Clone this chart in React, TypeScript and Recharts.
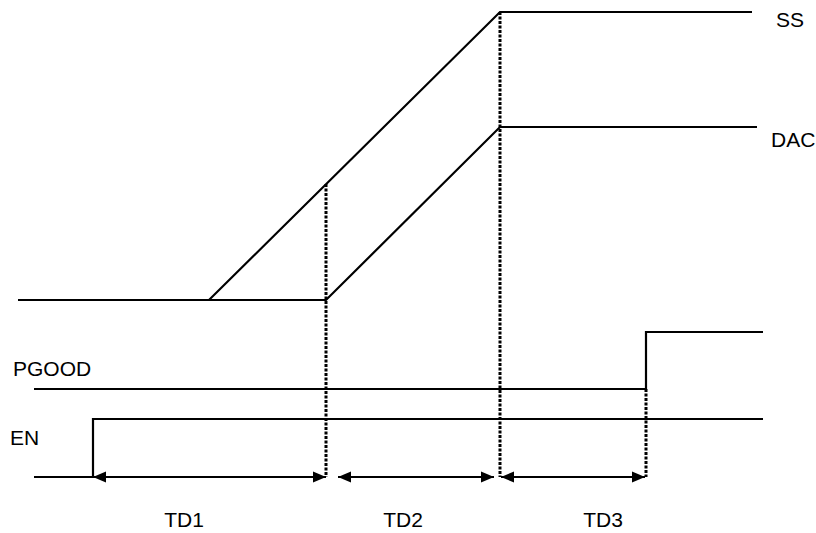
import React from "react";
import { ComposedChart, Line, XAxis, YAxis, ReferenceDot } from "recharts";

// time axis and signal levels (same units as the drawing)
const ssTime = [18, 209, 500, 752];
const ssLevel = [300, 300, 12, 12];

const dacTime = [18, 326, 500, 757];
const dacLevel = [300, 300, 127, 127];

const pgoodTime = [34, 646, 646, 763];
const pgoodLevel = [389, 389, 332, 332];

const enTime = [34, 93, 93, 763];
const enLevel = [477, 477, 419, 419];

// dotted guides: [time, top, bottom]
const guideTime = [326, 500, 646];
const guideTop = [184, 12, 389];
const guideBottom = [477, 477, 477];

// delay arrows
const delayNames = ["TD1", "TD2", "TD3"];
const delayStart = [93, 338, 501];
const delayEnd = [326, 494, 645];
const delayLevel = 477;
const delayLabelTime = [184, 403, 603];
const delayLabelLevel = 527;

// signal names
const signalNames = ["SS", "DAC", "PGOOD", "EN"];
const signalLabelTime = [776, 771, 13, 10];
const signalLabelLevel = [27, 147, 376, 445];

const toRows = (t: number[], v: number[]) => t.map((x, i) => ({ t: x, v: v[i] }));

const FONT = "'Liberation Sans', Arial, sans-serif";

function ArrowHead(props: any) {
  const { cx, cy, index } = props;
  if (cx == null || cy == null) return null;
  const dir = index === 0 ? 1 : -1;
  const len = 13;
  const half = 5.5;
  const pts = `${cx},${cy} ${cx + dir * len},${cy - half} ${cx + dir * len},${cy + half}`;
  return <polygon key={`ah-${index}`} points={pts} fill="#000" />;
}

export default function App() {
  const signals = [
    toRows(ssTime, ssLevel),
    toRows(dacTime, dacLevel),
    toRows(pgoodTime, pgoodLevel),
    toRows(enTime, enLevel),
  ];

  return (
    <div style={{ width: 816, height: 533 }}>
      <style>{`body{margin:0}`}</style>
      <ComposedChart width={816} height={533} margin={{ top: 0, right: 0, bottom: 0, left: 0 }}>
        <XAxis type="number" dataKey="t" domain={[0, 816]} hide allowDuplicatedCategory={false} />
        <YAxis type="number" domain={[0, 533]} reversed hide />

        {signals.map((rows, i) => (
          <Line
            key={`sig-${i}`}
            data={rows}
            dataKey="v"
            type="linear"
            stroke="#000"
            strokeWidth={2.2}
            dot={false}
            activeDot={false}
            isAnimationActive={false}
          />
        ))}

        {guideTime.map((t, i) => (
          <Line
            key={`guide-${i}`}
            data={toRows([t, t], [guideTop[i], guideBottom[i]])}
            dataKey="v"
            type="linear"
            stroke="#000"
            strokeWidth={3}
            strokeDasharray="3 1.5"
            dot={false}
            activeDot={false}
            isAnimationActive={false}
          />
        ))}

        {delayNames.map((name, i) => (
          <Line
            key={`delay-${name}`}
            data={toRows([delayStart[i], delayEnd[i]], [delayLevel, delayLevel])}
            dataKey="v"
            type="linear"
            stroke="#000"
            strokeWidth={2.2}
            dot={ArrowHead}
            activeDot={false}
            isAnimationActive={false}
          />
        ))}

        {delayNames.map((name, i) => (
          <ReferenceDot
            key={`dl-${name}`}
            x={delayLabelTime[i]}
            y={delayLabelLevel}
            r={1}
            shape={(p: any) => (
              <text x={p.cx} y={p.cy} textAnchor="middle" fontFamily={FONT} fontSize={21} fill="#000">
                {name}
              </text>
            )}
          />
        ))}

        {signalNames.map((name, i) => (
          <ReferenceDot
            key={`sl-${name}`}
            x={signalLabelTime[i]}
            y={signalLabelLevel[i]}
            r={1}
            shape={(p: any) => (
              <text x={p.cx} y={p.cy} textAnchor="start" fontFamily={FONT} fontSize={21} fill="#000">
                {name}
              </text>
            )}
          />
        ))}
      </ComposedChart>
    </div>
  );
}
